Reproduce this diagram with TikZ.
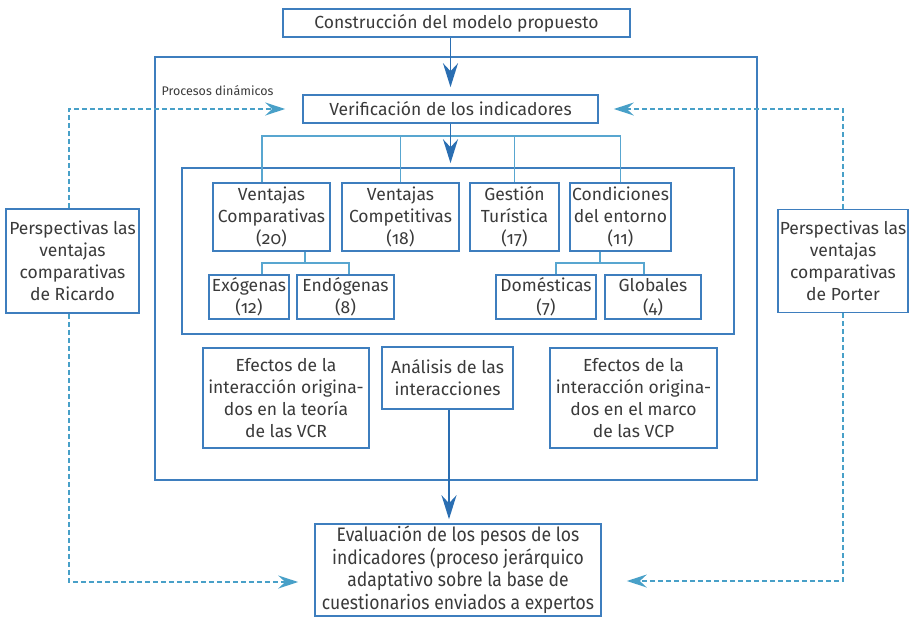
\documentclass[tikz,border=0pt]{standalone}
\usepackage{fontspec}
\setmainfont{Fira Sans}[Numbers=OldStyle]
\newfontfamily\narrowfont{Fira Sans}[FakeStretch=0.9,Numbers=OldStyle]
\usetikzlibrary{arrows.meta}

\definecolor{boxblue}{RGB}{62,126,190}
\definecolor{arrowblue}{RGB}{42,110,178}
\definecolor{treeblue}{RGB}{88,166,208}
\definecolor{dashblue}{RGB}{72,160,200}
\definecolor{txt}{RGB}{58,58,58}

\tikzset{
  box/.style={draw=boxblue, line width=1.6pt, align=center, inner sep=0pt,
    text=txt, font=\fontsize{17.5}{22}\selectfont},
  frame/.style={draw=boxblue, line width=1.6pt, inner sep=0pt},
  tree/.style={draw=treeblue, line width=1.4pt},
  flow/.style={draw=arrowblue, line width=1.8pt,
    -{Stealth[length=24pt,width=15pt,inset=8pt]}},
  loop/.style={draw=dashblue, line width=1.3pt, dash pattern=on 5pt off 3pt,
    -{Stealth[length=20pt,width=13pt,inset=7pt]}},
}

\begin{document}
\begin{tikzpicture}[x=1pt,y=-1pt]
\useasboundingbox (0,0) rectangle (909,622);

% frames
\node[frame, minimum width=602pt, minimum height=423pt] (outer) at (456,268.5) {};
\node[frame, minimum width=552pt, minimum height=166pt] (inner) at (458,251) {};

% main flow boxes
\node[box, minimum width=347pt, minimum height=28pt] (top) at (456.5,23) {Construcción del modelo propuesto};
\node[box, minimum width=295pt, minimum height=28pt] (verif) at (450.5,109) {Verificación de los indicadores};
\node[text=txt, font=\fontsize{12.5}{14}\selectfont, inner sep=0pt] (proc) at (217.5,91) {Procesos dinámicos};

% indicator groups
\node[box, minimum width=117pt, minimum height=68pt] (vc) at (271.5,217) {Ventajas\\Comparativas\\(20)};
\node[box, minimum width=117pt, minimum height=68pt] (vco) at (400.5,217) {Ventajas\\Competitivas\\(18)};
\node[box, minimum width=89pt, minimum height=68pt] (gt) at (514.5,217) {Gestión\\Turística\\(17)};
\node[box, minimum width=101pt, minimum height=68pt] (ce) at (620.5,217) {Condiciones\\del entorno\\(11)};

\node[box, minimum width=80pt, minimum height=44pt] (exo) at (249,297) {Exógenas\\(12)};
\node[box, minimum width=97pt, minimum height=44pt] (endo) at (345.5,297) {Endógenas\\(8)};
\node[box, minimum width=100pt, minimum height=44pt] (dom) at (546,297) {Domésticas\\(7)};
\node[box, minimum width=96pt, minimum height=44pt] (glob) at (653,297) {Globales\\(4)};

% interaction boxes
\node[box, minimum width=166pt, minimum height=100pt] (efl) at (286,398) {Efectos de la\\interacción origina-\\dos en la teoría\\de las VCR};
\node[box, minimum width=131pt, minimum height=62pt] (ana) at (447.5,378) {Análisis de las\\interacciones};
\node[box, minimum width=167pt, minimum height=100pt] (efr) at (633.5,398) {Efectos de la\\interacción origina-\\dos en el marco\\de las VCP};

% evaluation
\node[box, minimum width=286pt, minimum height=92pt, font=\narrowfont\fontsize{19.5}{22.5}\selectfont] (eval) at (458,570) {Evaluación de los pesos de los\\indicadores (proceso jerárquico\\adaptativo sobre la base de\\cuestionarios enviados a expertos};

% side perspectives
\node[box, minimum width=133pt, minimum height=104pt] (ric) at (72.5,261) {Perspectivas las\\ventajas\\comparativas\\de Ricardo};
\node[box, minimum width=130pt, minimum height=103pt] (por) at (843,261) {Perspectivas las\\ventajas\\comparativas\\de Porter};

% tree connectors
\coordinate (fork) at (450,136);
\coordinate (subL) at (305,263);
\coordinate (subR) at (600,263);
\draw[tree] ([xshift=-9.5pt]vc.north) |- (fork) -| (ce.north);
\draw[tree] (vco.north) -- (vco.north |- fork);
\draw[tree] (gt.north) -- (gt.north |- fork);
\draw[tree] (subL |- vc.south) -- (subL);
\draw[tree] ([xshift=13pt]exo.north) |- (subL) -| ([xshift=3.5pt]endo.north);
\draw[tree] (subR |- ce.south) -- (subR);
\draw[tree] ([xshift=10pt]dom.north) |- (subR) -| ([xshift=-9pt]glob.north);

% main arrows
\draw[flow, shorten >=7pt] (top.south -| verif.north) -- (verif.north);
\draw[flow, shorten >=4pt] (verif.south) -- (verif.south |- inner.north);
\draw[flow, shorten >=4pt] ([xshift=1.5pt]ana.south) -- ([xshift=1.5pt]ana.south |- eval.north);

% dynamic feedback (dashed)
\draw[loop] ([xshift=-3.5pt]ric.north) |- ([xshift=-17pt]verif.west);
\draw[loop] ([xshift=-3.5pt]ric.south) |- ([xshift=-16pt,yshift=-12pt]eval.west);
\draw[loop] (por.north) |- ([xshift=15pt]verif.east);
\draw[loop] (por.south) |- ([xshift=25pt,yshift=-11pt]eval.east);
\end{tikzpicture}
\end{document}
